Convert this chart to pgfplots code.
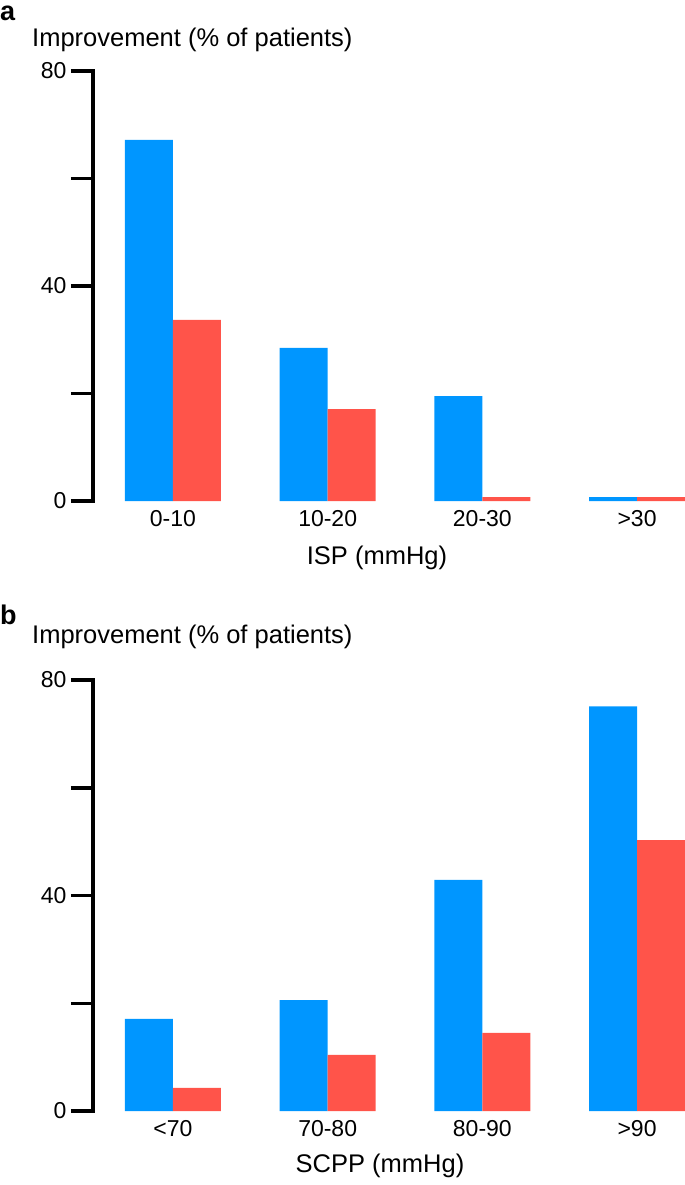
\documentclass[border=0pt]{standalone}
\usepackage{pgfplots}
\pgfplotsset{compat=1.18}
\usepackage{fontspec}
\setmainfont{Liberation Sans}
\definecolor{barblue}{RGB}{0,150,255}
\definecolor{barred}{RGB}{255,84,74}
\pgfplotsset{
  panel/.style={
    scale only axis, width=592bp, height=430bp,
    xmin=-0.517, xmax=3.31, ymin=0, ymax=80,
    axis x line*=bottom, axis y line*=left,
    x axis line style={draw=none},
    y axis line style={line width=3.5bp, line cap=rect},
    xtick={0,1,2,3}, major x tick style={draw=none},
    ytick={0,20,40,60,80}, yticklabels={0,,40,,80},
    major y tick style={line width=3.5bp, black},
    tick align=outside, major tick length=22bp,
    /pgf/number format/assume math mode=true,
    ticklabel style={font=\fontsize{23bp}{27bp}\selectfont},
    yticklabel style={xshift=-1bp},
    xticklabel style={anchor=base, yshift=-3bp},
    ybar=0pt, bar width=48bp, clip=false,
  }
}
\begin{document}
\begin{tikzpicture}
\path[use as bounding box] (0,0) rectangle (685bp,-1185bp);
\begin{axis}[panel, at={(93bp,-501bp)}, anchor=south west,
  xticklabels={0-10,10-20,20-30,>30}]
\addplot[draw=none, fill=barblue] coordinates {(0,67.2) (1,28.5) (2,19.5) (3,0.7)};
\addplot[draw=none, fill=barred] coordinates {(0,33.7) (1,17.1) (2,0.7) (3,0.7)};
\end{axis}
\begin{axis}[panel, at={(93bp,-1111bp)}, anchor=south west,
  height=431bp, xticklabels={<70,70-80,80-90,>90}]
\addplot[draw=none, fill=barblue] coordinates {(0,17.1) (1,20.6) (2,42.9) (3,75.1)};
\addplot[draw=none, fill=barred] coordinates {(0,4.3) (1,10.4) (2,14.5) (3,50.3)};
\end{axis}
\begin{scope}[every node/.style={inner sep=0pt}]
\node[anchor=base west, font=\fontsize{27bp}{32bp}\selectfont\bfseries] at (0bp,-20bp) {a};
\node[anchor=base west, font=\fontsize{25.5bp}{30bp}\selectfont] at (32bp,-46.7bp) {Improvement (\% of patients)};
\node[anchor=base, font=\fontsize{25.5bp}{30bp}\selectfont] at (377bp,-564bp) {ISP (mmHg)};
\node[anchor=base west, font=\fontsize{27bp}{32bp}\selectfont\bfseries] at (0bp,-624bp) {b};
\node[anchor=base west, font=\fontsize{25.5bp}{30bp}\selectfont] at (32bp,-643bp) {Improvement (\% of patients)};
\node[anchor=base, font=\fontsize{25.5bp}{30bp}\selectfont] at (380bp,-1172bp) {SCPP (mmHg)};
\end{scope}
\end{tikzpicture}
\end{document}
